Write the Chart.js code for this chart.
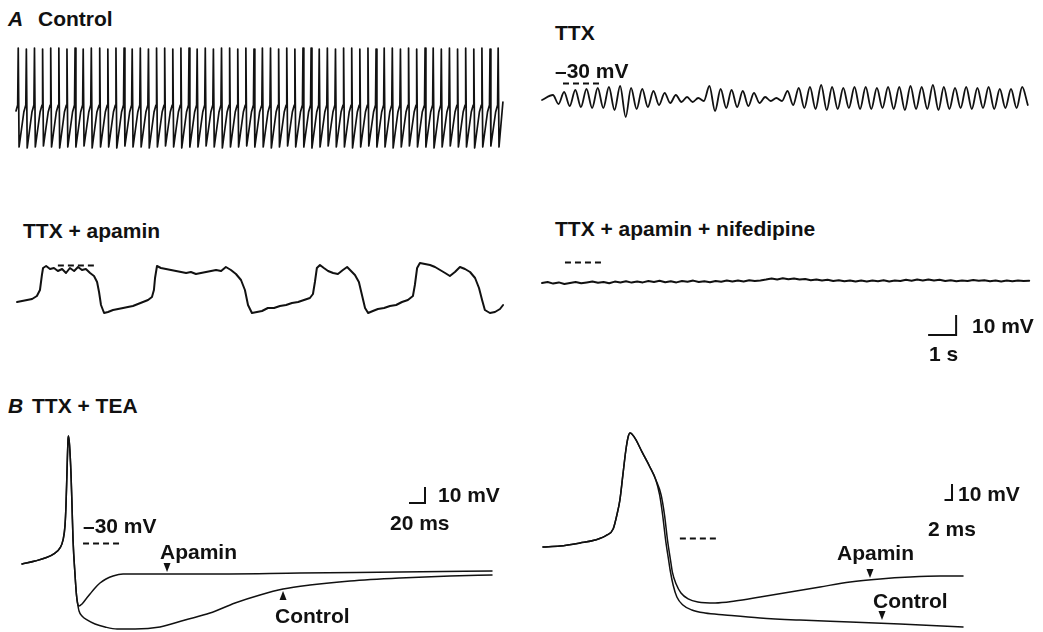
<!DOCTYPE html>
<html><head><meta charset="utf-8">
<script src="https://cdn.jsdelivr.net/npm/chart.js@4/dist/chart.umd.min.js"></script>
<style>
html,body{margin:0;padding:0;background:#fff;}
#fig{position:relative;width:1043px;height:632px;overflow:hidden;background:#fff;}
#fig canvas{position:absolute;}
.lbl{position:absolute;font:bold 21px "Liberation Sans",Arial,sans-serif;color:#111;white-space:nowrap;line-height:21px;z-index:2;}
.it{font-style:italic;}
</style></head><body><div id="fig"></div>
<script>
// ---------- DATA (time in s or ms, membrane potential in mV) ----------
// A, Control: spike times (s), spike peaks (mV), post-spike troughs (mV)
const ctrlSpikeT = [0.08,0.37,0.66,0.95,1.24,1.53,1.82,2.11,2.40,2.69,2.99,3.28,3.57,3.86,4.15,4.44,4.73,5.02,5.31,5.60,5.89,6.18,6.47,6.76,7.05,7.34,7.63,7.92,8.21,8.50,8.80,9.09,9.38,9.67,9.96,10.25,10.54,10.83,11.12,11.41,11.70,11.99,12.28,12.57,12.86,13.15,13.44,13.73,14.02,14.31,14.61,14.90,15.19,15.48,15.77,16.06,16.35,16.64,16.93,17.22];
const ctrlPeakV = [-12.5,-13,-12.5,-13,-12.5,-12.5,-13,-12.5,-13,-12.5,-12.5,-13,-12.5,-12.5,-13,-12.5,-13,-12.5,-12.5,-13,-12.5,-12.5,-13,-12.5,-13,-12.5,-12.5,-13,-12.5,-13,-12.5,-12.5,-13,-12.5,-13,-12.5,-12.5,-13,-12.5,-13,-12.5,-12.5,-13,-12.5,-13,-12.5,-12.5,-13,-12.5,-13,-12.5,-12.5,-13,-12.5,-13,-12.5,-13,-12.5,-13,-12.5];
const ctrlTroughV = [-62,-62.5,-62,-61.5,-62,-62.5,-62,-62,-61.5,-62.5,-62,-62,-62.5,-61.5,-62,-62,-62.5,-62,-61.5,-62,-62.5,-62,-62,-61.5,-62,-62.5,-62,-62,-61.5,-62,-62,-62.5,-62,-61.5,-62,-62,-62.5,-62,-61.5,-62,-62,-62.5,-62,-61.5,-62,-62,-62.5,-62,-61.5,-62,-62,-62.5,-62,-61.5,-62,-62,-62.5,-62,-61.5,-62];
const ctrlCycleDt = [-0.02, 0.03, 0.2];      // pre-spike, trough, late-ramp offsets (s)
const ctrlCycleV  = [-41, -44.5];            // pre-spike, late-ramp (mV)
const ctrlEnds = [[0, -44], [17.39, -39.5]];

// A, TTX: oscillation peaks (s, mV) and following troughs (mV)
const ttxPeakT = [0.39,0.79,1.19,1.59,1.99,2.39,2.79,3.18,3.58,3.98,4.38,4.78,5.18,5.58,5.98,6.38,6.77,7.17,7.57,7.97,8.37,8.77,9.17,9.57,9.97,10.36,10.76,11.16,11.56,11.96,12.36,12.76,13.16,13.56,13.96,14.35,14.75,15.15,15.55,15.95,16.35,16.75,17.15];
const ttxPeakV = [-36,-34.5,-33.5,-33,-32.5,-32,-31.5,-32.5,-33,-34,-35,-36,-37,-37.5,-31.5,-33,-33.5,-34,-35,-37,-37.5,-34,-32.5,-32,-31,-32,-32.5,-32,-32,-32.5,-32,-32,-31.5,-32,-31,-32,-32.5,-32,-32.5,-32,-33,-33,-32];
const ttxTroughV = [-40.5,-41.5,-42,-42.5,-42.5,-43.5,-47,-43,-42,-41,-40,-39.5,-39.5,-39,-44,-42.5,-42,-41.5,-40,-39,-39,-41,-42.5,-43,-43.5,-43,-42.5,-43,-43,-42.5,-43,-43.5,-43,-43,-43.5,-43,-42.5,-43,-42.5,-43,-42.5,-42.5,-41];
const ttxStart = [0, -38.5];

// A, TTX + apamin
const apaT = [0,0.18,0.36,0.54,0.71,0.82,0.89,0.93,1.04,1.18,1.32,1.46,1.61,1.75,1.89,2.04,2.18,2.32,2.46,2.61,2.75,2.86,2.93,3.00,3.11,3.25,3.43,3.61,3.79,3.96,4.14,4.32,4.50,4.68,4.82,4.89,4.93,5.00,5.14,5.32,5.50,5.68,5.86,6.04,6.21,6.39,6.57,6.75,6.93,7.11,7.29,7.46,7.64,7.82,8.00,8.14,8.25,8.39,8.57,8.75,8.96,9.18,9.39,9.61,9.82,10.04,10.25,10.46,10.57,10.64,10.71,10.82,10.96,11.11,11.29,11.46,11.64,11.79,11.93,12.07,12.21,12.32,12.43,12.54,12.71,12.89,13.11,13.32,13.54,13.75,13.96,14.14,14.21,14.29,14.39,14.57,14.75,14.93,15.11,15.29,15.46,15.64,15.82,16.00,16.18,16.36,16.50,16.61,16.71,16.89,17.07,17.25,17.36];
const apaV = [-48.5,-48,-47.5,-47,-45.5,-42.5,-35,-31.5,-30.5,-32,-31.5,-33,-32,-34,-31.5,-33,-31,-32.5,-32,-34,-35.5,-38.5,-43.5,-50,-54,-53.5,-52.5,-52,-51.5,-51,-50.5,-49.5,-48.5,-47.5,-46,-42.5,-36.5,-30.5,-31.5,-32,-32.5,-33,-33.5,-34,-33.5,-34.5,-34,-33.5,-33,-32.5,-33,-31,-32.5,-34.5,-37.5,-42.5,-50,-54,-53.5,-53,-51.5,-51.5,-50.5,-50,-49,-48.5,-47.5,-46.5,-44.5,-38.5,-31.5,-30,-31.5,-33,-34,-34.5,-32.5,-31,-33,-35,-38.5,-45,-51.5,-54,-53,-52,-51.5,-50.5,-50,-48.5,-47.5,-45.5,-40,-31.5,-29,-29.5,-30,-31,-32.5,-34,-35.5,-33.5,-31,-32,-33.5,-36.5,-41.5,-47.5,-52.5,-54,-53.5,-52,-50];

// A, TTX + apamin + nifedipine
const nifT = [0,0.2,0.4,0.6,0.8,1.0,1.2,1.4,1.6,1.8,2.0,2.2,2.4,2.6,2.8,3.0,3.2,3.4,3.6,3.8,4.0,4.2,4.4,4.6,4.8,5.0,5.2,5.4,5.6,5.8,6.0,6.2,6.4,6.6,6.8,7.0,7.2,7.4,7.6,7.8,8.0,8.2,8.4,8.6,8.8,9.0,9.2,9.4,9.6,9.8,10.0,10.2,10.4,10.6,10.8,11.0,11.2,11.4,11.6,11.8,12.0,12.2,12.4,12.6,12.8,13.0,13.2,13.4,13.6,13.8,14.0,14.2,14.4,14.6,14.8,15.0,15.2,15.4,15.6,15.8,16.0,16.2,16.4,16.6,16.8,17.0,17.2,17.4];
const nifV = [-40.5,-40,-40.8,-40.2,-41,-40.5,-40,-40.6,-40.2,-39.8,-40.4,-40,-40.6,-39.8,-40.2,-39.6,-40.3,-39.8,-40.2,-39.5,-40,-39.4,-40.1,-39.6,-40.2,-39.5,-39.9,-39.3,-40,-39.6,-40.1,-39.5,-39.9,-39.3,-39.8,-39.2,-39.7,-39.1,-39.5,-39.2,-38.8,-38.3,-38.7,-38.1,-38.6,-38.2,-38.8,-38.5,-39.1,-38.7,-39.3,-38.9,-39.5,-39.1,-39.6,-39.2,-39.8,-39.3,-39.7,-39.2,-39.6,-39.1,-39.7,-39.2,-39.5,-38.9,-39.4,-38.8,-39.2,-38.7,-39.3,-38.9,-39.5,-39.1,-39.6,-39.2,-39.5,-39,-39.4,-39.1,-39.6,-39.2,-39.7,-39.3,-39.6,-39.2,-39.5,-39.4];

// B left (ms, mV): common upstroke, then Apamin and Control repolarisation
const blPreT = [0,16.3,28.8,41.3,47.5,51.3,53.8,55,56.3,57.5,58.1,59.4,61.3,62.5,63.8,66.3,68.1,69.4];
const blPreV = [-43.1,-41.3,-39.4,-36.3,-33.1,-28.1,-18.8,-6.3,15.6,34.4,36.9,31.3,12.5,-6.3,-28.1,-50,-62.5,-67.5];
const blApaT = [71.3,75,80,85,91.3,97.5,105,113.8,126.3,160,222.5,347.5,472.5,587.5];
const blApaV = [-69.4,-68.1,-65,-61.9,-58.1,-55,-52.5,-50.6,-49.4,-49.4,-49.4,-48.8,-48.1,-47.5];
const blCtrlT = [71.3,75,81.3,91.3,103.8,118.8,141.3,172.5,203.8,235,266.3,297.5,326.3,360,410,472.5,535,587.5];
const blCtrlV = [-72.5,-75.6,-78.1,-80.6,-82.5,-83.8,-83.8,-82.5,-78.1,-73.8,-67.5,-62.5,-58.8,-56.3,-53.8,-51.9,-50.6,-50];

// B right (ms, mV)
const brPreT = [0,4.5,9.9,13.9,17.1,18.7,19.7,20.5,21.3,22.1,22.7,23.2,23.7,24.8,26.4,28.5,30.1];
const brPreV = [-35.6,-35,-33.1,-31.3,-28.1,-24.4,-15.6,-6.3,9.4,25,33.1,35.6,35,31.3,23.8,14.4,6.3];
const brApaT = [31.5,32.4,33.2,34,34.5,35.5,36.8,38.7,41.3,45.9,51.2,57.9,65.9,73.9,81.9,89.9,97.9,105.9,112];
const brApaV = [-3.1,-15.6,-31.3,-43.8,-51.3,-58.8,-64.4,-68.1,-70,-70.6,-69.4,-66.9,-63.8,-60.6,-57.5,-55.6,-54.4,-53.8,-53.8];
const brCtrlT = [31.1,31.9,32.7,33.5,33.9,34.7,35.7,37.3,39.7,43.2,48.5,57.9,68.5,81.9,95.2,112];
const brCtrlV = [-3.1,-15.6,-31.3,-43.8,-50,-59.4,-66.9,-71.9,-75,-76.9,-78.1,-80,-81.3,-82.5,-83.8,-85.6];

// ---------- BUILD ----------
const INK = '#111';
const fig = document.getElementById('fig');
const zip = (ts, vs) => ts.map((t, i) => ({x: t, y: vs[i]}));

function ctrlPoints() {
  const p = [{x: ctrlEnds[0][0], y: ctrlEnds[0][1]}];
  ctrlSpikeT.forEach((t, i) => {
    p.push({x: t + ctrlCycleDt[0], y: ctrlCycleV[0]});
    p.push({x: t, y: ctrlPeakV[i]});
    p.push({x: t + ctrlCycleDt[1], y: ctrlTroughV[i]});
    if (i < ctrlSpikeT.length - 1) p.push({x: t + ctrlCycleDt[2], y: ctrlCycleV[1]});
  });
  p.push({x: ctrlEnds[1][0], y: ctrlEnds[1][1]});
  return p;
}
function ttxPoints() {
  const p = [{x: ttxStart[0], y: ttxStart[1]}];
  ttxPeakT.forEach((t, i) => {
    p.push({x: t, y: ttxPeakV[i]});
    p.push({x: t + 0.2, y: ttxTroughV[i]});
  });
  return p;
}

function makePanel(spec) {
  const [left, top, w, h] = spec.box;
  const c = document.createElement('canvas');
  c.width = w; c.height = h;
  c.style.left = left + 'px'; c.style.top = top + 'px';
  c.style.width = w + 'px'; c.style.height = h + 'px';
  fig.appendChild(c);
  const xMin = (left - spec.t0px) / spec.pxPerT, xMax = (left + w - spec.t0px) / spec.pxPerT;
  const yMax = -30 + (spec.refPx - top) / spec.pxPerV;
  const yMin = -30 - (top + h - spec.refPx) / spec.pxPerV;
  const decor = {
    id: 'decor',
    afterDatasetsDraw(chart) {
      const {ctx} = chart; const X = chart.scales.x, Y = chart.scales.y;
      ctx.save();
      ctx.strokeStyle = INK; ctx.fillStyle = INK;
      (spec.dashes || []).forEach(d => {
        ctx.lineWidth = 2; ctx.setLineDash([6, 4]);
        const py = Math.round(Y.getPixelForValue(d[2])) + 0.5;
        ctx.beginPath(); ctx.moveTo(X.getPixelForValue(d[0]), py); ctx.lineTo(X.getPixelForValue(d[1]), py); ctx.stroke();
      });
      ctx.setLineDash([]);
      if (spec.bar) {
        const [bt, bv, dt, dv] = spec.bar;
        ctx.lineWidth = 2;
        ctx.beginPath();
        ctx.moveTo(X.getPixelForValue(bt), Y.getPixelForValue(bv));
        ctx.lineTo(X.getPixelForValue(bt + dt), Y.getPixelForValue(bv));
        ctx.lineTo(X.getPixelForValue(bt + dt), Y.getPixelForValue(bv + dv));
        ctx.stroke();
      }
      (spec.arrows || []).forEach(a => {
        const px = X.getPixelForValue(a[0]), py = Y.getPixelForValue(a[1]);
        const s = a[2] === 'down' ? -1 : 1;
        ctx.beginPath(); ctx.moveTo(px, py); ctx.lineTo(px - 3.5, py + s * 9); ctx.lineTo(px + 3.5, py + s * 9); ctx.closePath(); ctx.fill();
      });
      ctx.restore();
    }
  };
  new Chart(c, {
    type: 'line',
    data: {datasets: spec.series.map(pts => ({
      data: pts, borderColor: INK, borderWidth: spec.lw, pointRadius: 0, fill: false,
      tension: spec.smooth ? 0.4 : 0, cubicInterpolationMode: spec.smooth ? 'monotone' : 'default',
      borderJoinStyle: 'round', borderCapStyle: 'round', clip: false}))},
    options: {
      responsive: false, animation: false, events: [], layout: {padding: 0},
      plugins: {legend: {display: false}, tooltip: {enabled: false}},
      scales: {x: {type: 'linear', display: false, min: xMin, max: xMax},
               y: {type: 'linear', display: false, min: yMin, max: yMax}}
    },
    plugins: [decor]
  });
}

makePanel({box: [8, 40, 502, 115], t0px: 16, pxPerT: 28, refPx: 83, pxPerV: 2, lw: 1.7,
  series: [ctrlPoints()]});
makePanel({box: [536, 60, 500, 70], t0px: 542, pxPerT: 28, refPx: 83, pxPerV: 2, lw: 1.8, smooth: true,
  series: [ttxPoints()], dashes: [[0.75, 2.07, -30]]});
makePanel({box: [8, 250, 502, 75], t0px: 17, pxPerT: 28, refPx: 265, pxPerV: 2, lw: 2,
  series: [zip(apaT, apaV)], dashes: [[1.46, 2.86, -30]]});
makePanel({box: [536, 250, 500, 95], t0px: 542, pxPerT: 28, refPx: 262, pxPerV: 2, lw: 2,
  series: [zip(nifT, nifV)], dashes: [[0.82, 2.14, -30]], bar: [13.79, -66.5, 1, 10]});
makePanel({box: [12, 428, 488, 204], t0px: 22, pxPerT: 0.8, refPx: 543, pxPerV: 1.6, lw: 1.5, smooth: true,
  series: [zip(blPreT.concat(blApaT), blPreV.concat(blApaV)), zip(blPreT.concat(blCtrlT), blPreV.concat(blCtrlV))],
  dashes: [[76.3, 122.5, -30]], bar: [483.75, -5, 20, 10],
  arrows: [[181.3, -48.1, 'down'], [326.3, -60, 'up']]});
makePanel({box: [536, 425, 440, 207], t0px: 543, pxPerT: 3.75, refPx: 538, pxPerV: 1.6, lw: 1.5, smooth: true,
  series: [zip(brPreT.concat(brApaT), brPreV.concat(brApaV)), zip(brPreT.concat(brCtrlT), brPreV.concat(brCtrlV))],
  dashes: [[36.5, 46.9, -30]], bar: [107.07, -6.25, 2, 10],
  arrows: [[87.2, -55, 'down'], [90.4, -81.25, 'down']]});

// ---------- TEXT ----------
const labels = [
  ['A', 8, 18, true], ['Control', 38, 18], ['TTX', 555, 32], ['\u201330 mV', 555, 70],
  ['TTX + apamin', 23, 230], ['TTX + apamin + nifedipine', 555, 228],
  ['10 mV', 972, 325], ['1 s', 929, 353],
  ['B', 8, 405, true], ['TTX + TEA', 32, 405],
  ['\u201330 mV', 83, 525], ['Apamin', 160, 551], ['Control', 275, 615],
  ['10 mV', 438, 494], ['20 ms', 390, 522],
  ['Apamin', 837, 552], ['Control', 873, 600], ['10 mV', 958, 493], ['2 ms', 928, 528]
];
labels.forEach(([t, x, cy, it]) => {
  const d = document.createElement('div');
  d.className = 'lbl' + (it ? ' it' : '');
  d.textContent = t;
  d.style.left = x + 'px'; d.style.top = (cy - 10.5) + 'px';
  fig.appendChild(d);
});
</script></body></html>
